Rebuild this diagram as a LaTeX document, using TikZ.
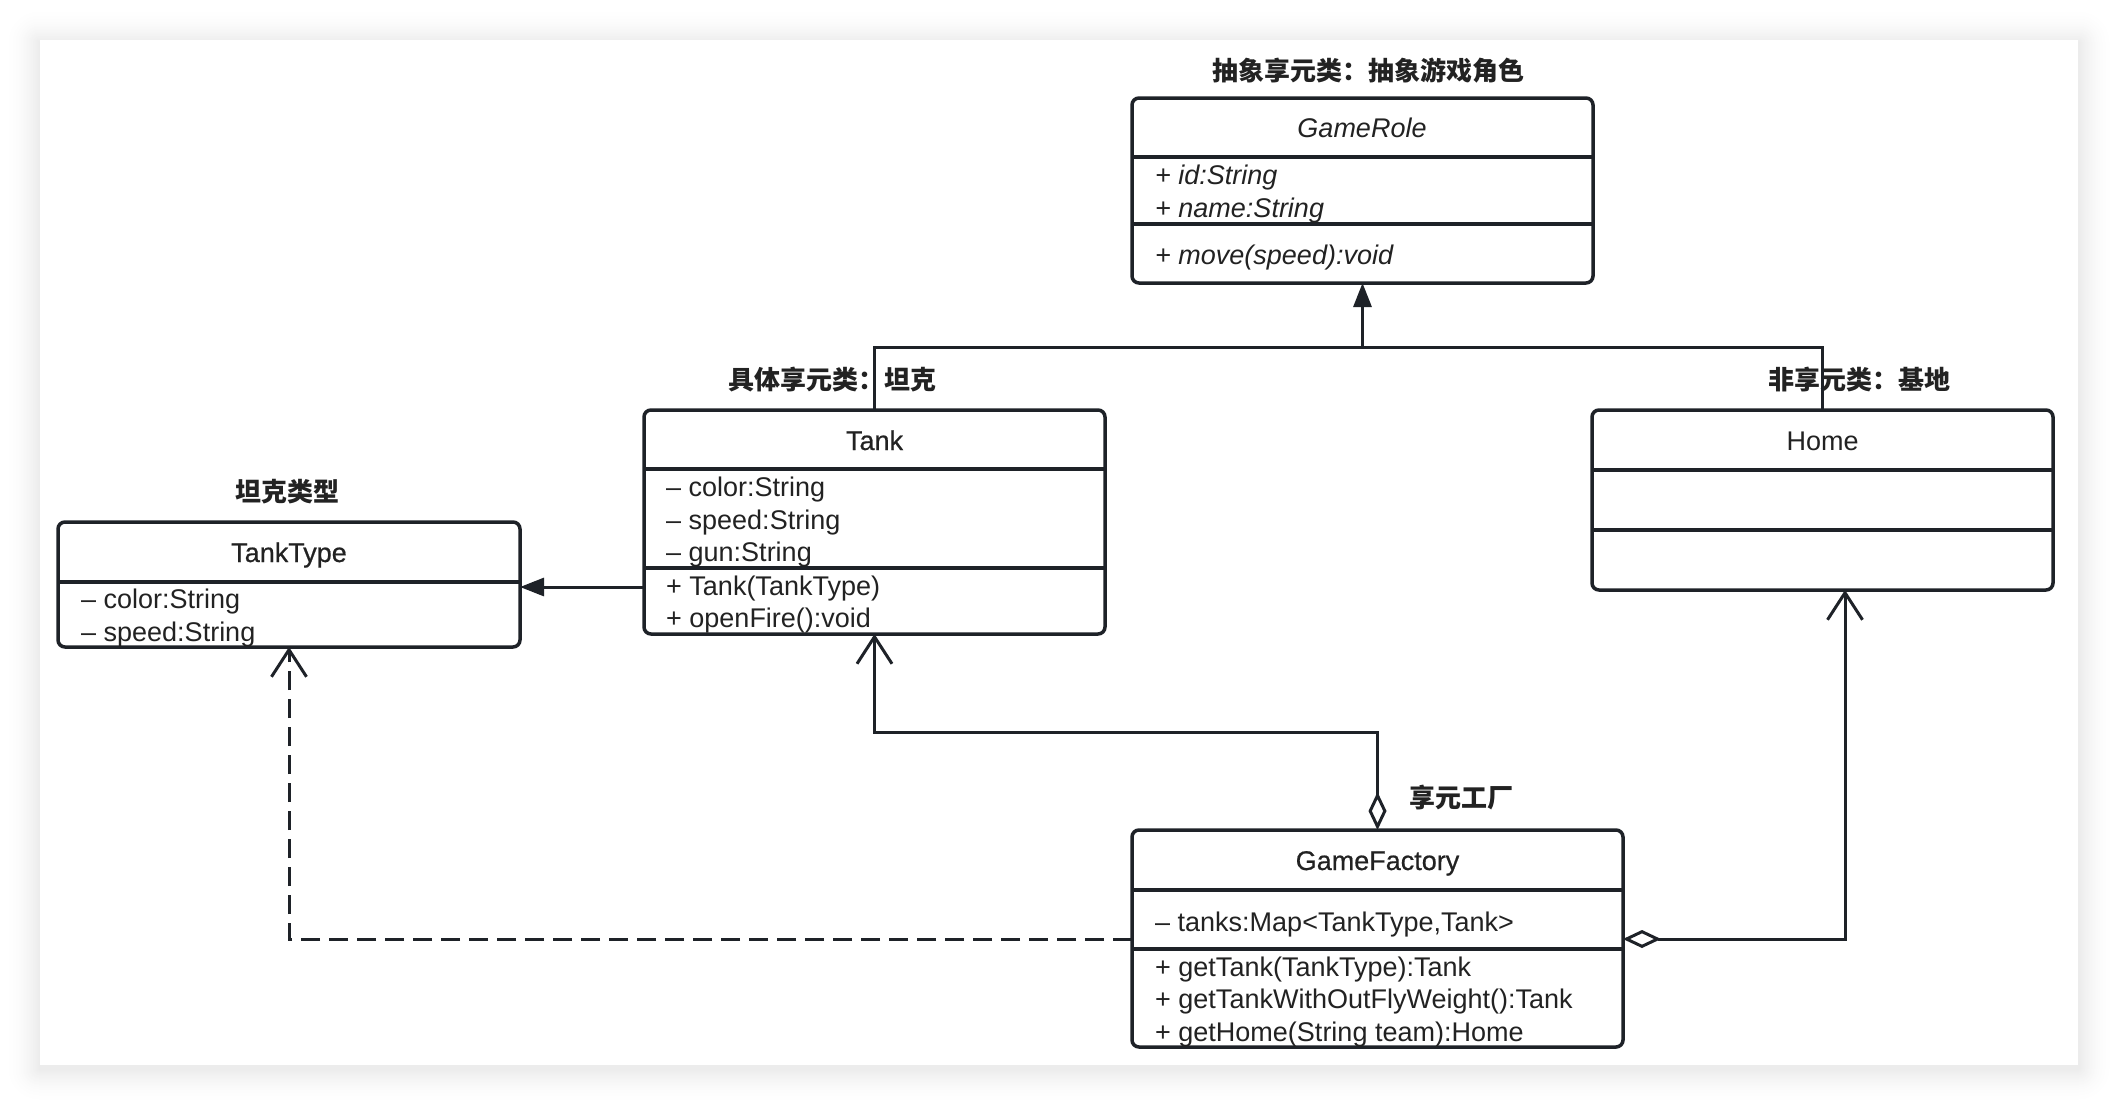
\documentclass[tikz,border=0pt]{standalone}
\usepackage{fontspec}
\setmainfont{Liberation Sans}
\newfontfamily\cjk{Noto Sans CJK SC}
\newfontface\medfont{Liberation Sans}[FakeBold=0.6]
\usetikzlibrary{arrows.meta}
\definecolor{ink}{HTML}{1E2228}
\definecolor{txt}{HTML}{222222}
\begin{document}
\begin{tikzpicture}[x=1pt,y=-1pt,
  box/.style={draw=ink, line width=3.5pt, rounded corners=7pt, anchor=north west, inner sep=0pt, outer sep=0pt, fill=white},
  div/.style={draw=ink, line width=3.5pt},
  conn/.style={draw=ink, line width=3pt},
  attr/.style={anchor=west, inner sep=0pt, yshift=-2.5pt, text=txt, font=\fontsize{27}{33}\selectfont, text height=20pt, text depth=5pt},
  ttl/.style={inner sep=0pt, yshift=-2.5pt, text=txt, font=\fontsize{27}{33}\selectfont, text height=20pt, text depth=5pt},
  lbl/.style={inner sep=0pt, text=txt, font=\cjk\bfseries\fontsize{26}{32}\selectfont},
  gentip/.style={-{Triangle[length=24pt,width=18pt]}},
  vtip/.style={-{Straight Barb[length=27pt,width=35pt]}},
  dvtip/.style={{Diamond[open,fill=white,length=38pt,width=18pt]}-{Straight Barb[length=27pt,width=35pt]}},
]
\useasboundingbox (0,0) rectangle (2118,1106);
\fill[white] (0,0) rectangle (2118,1106);
\foreach \i in {36,35,...,1}{
  \pgfmathsetmacro{\shk}{8*(1-\i/37)*(1-\i/37)}
  \fill[black!\shk!white, rounded corners=\i pt] (40-\i,43-\i) rectangle (2078+\i,1068+\i);
}
\fill[white] (40,40) rectangle (2078,1065);

% labels
\node[lbl] (lblgr) at (1368,71) {抽象享元类：抽象游戏角色};
\node[lbl] (lbltank) at (832,380) {具体享元类：坦克};
\node[lbl] (lbltt) at (287,492) {坦克类型};
\node[lbl] (lblhome) at (1859,380) {非享元类：基地};
\node[lbl] (lblgf) at (1461,798) {享元工厂};

% GameRole
\node[box, minimum width=461pt, minimum height=185pt] (gamerole) at (1132,98) {};
\draw[div] (gamerole.west |- 0,157) -- (gamerole.east |- 0,157);
\draw[div] (gamerole.west |- 0,224) -- (gamerole.east |- 0,224);
\node[ttl, font=\itshape\fontsize{27}{33}\selectfont] (grt) at (1362,127) {GameRole};
\node[attr, font=\itshape\fontsize{27}{33}\selectfont] (gra1) at (1155,174) {+ id:String};
\node[attr, font=\itshape\fontsize{27}{33}\selectfont] (gra2) at (1155,207) {+ name:String};
\node[attr, font=\itshape\fontsize{27}{33}\selectfont] (grm1) at (1155,254) {+ move(speed):void};

% Tank
\node[box, minimum width=461pt, minimum height=224pt] (tank) at (644,410) {};
\draw[div] (tank.west |- 0,469) -- (tank.east |- 0,469);
\draw[div] (tank.west |- 0,568) -- (tank.east |- 0,568);
\node[ttl, font=\medfont\fontsize{27}{33}\selectfont] (tankt) at (874.5,440) {Tank};
\node[attr] (tanka1) at (666,486) {– color:String};
\node[attr] (tanka2) at (666,519) {– speed:String};
\node[attr] (tanka3) at (666,551) {– gun:String};
\node[attr] (tankm1) at (666,585) {+ Tank(TankType)};
\node[attr] (tankm2) at (666,617) {+ openFire():void};

% TankType
\node[box, minimum width=462pt, minimum height=125pt] (tanktype) at (58,522) {};
\draw[div] (tanktype.west |- 0,582) -- (tanktype.east |- 0,582);
\node[ttl, font=\medfont\fontsize{27}{33}\selectfont] (ttt) at (289,552) {TankType};
\node[attr] (tta1) at (81,598) {– color:String};
\node[attr] (tta2) at (81,631) {– speed:String};

% Home
\node[box, minimum width=461pt, minimum height=180pt] (home) at (1592,410) {};
\draw[div] (home.west |- 0,470) -- (home.east |- 0,470);
\draw[div] (home.west |- 0,530) -- (home.east |- 0,530);
\node[ttl] (homet) at (1822.5,440) {Home};

% GameFactory
\node[box, minimum width=491pt, minimum height=217pt] (gf) at (1132,830) {};
\draw[div] (gf.west |- 0,890) -- (gf.east |- 0,890);
\draw[div] (gf.west |- 0,949) -- (gf.east |- 0,949);
\node[ttl, font=\medfont\fontsize{27}{33}\selectfont] (gft) at (1377.5,860) {GameFactory};
\node[attr] (gfa1) at (1155,921) {– tanks:Map<TankType,Tank>};
\node[attr] (gfm1) at (1155,966) {+ getTank(TankType):Tank};
\node[attr] (gfm2) at (1155,998) {+ getTankWithOutFlyWeight():Tank};
\node[attr] (gfm3) at (1155,1031) {+ getHome(String team):Home};

% connectors
\draw[conn] (tank.north) |- (home.north |- 0,347) -- (home.north);
\draw[conn, gentip] (gamerole.south |- 0,347) -- (gamerole.south);
\draw[conn, gentip] (tank.west |- 0,587) -- (tanktype.east |- 0,587);
\draw[conn, dvtip] (gf.north) -- (gf.north |- 0,732) -| (tank.south);
\coordinate (homein) at (1845,590);
\draw[conn, dvtip] (gf.east |- 0,939) -| (homein);
\draw[conn, vtip, dash pattern=on 19pt off 9pt] (gf.west |- 0,939) -| (tanktype.south);
\end{tikzpicture}
\end{document}
